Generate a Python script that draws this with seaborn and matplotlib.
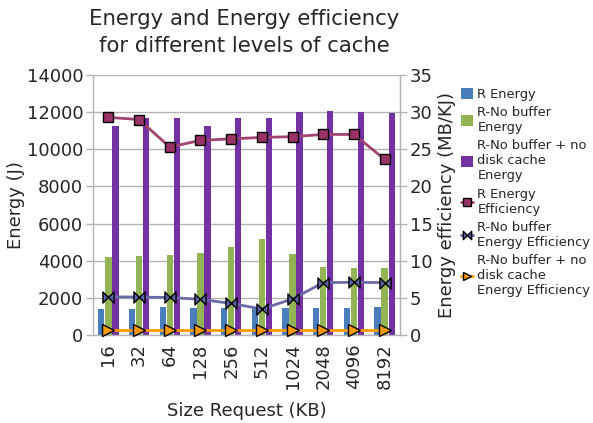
import numpy as np
import pandas as pd
import matplotlib
matplotlib.use("Agg")
import matplotlib.pyplot as plt
import seaborn as sns
from matplotlib.path import Path
from matplotlib.patches import Patch
from matplotlib.lines import Line2D

# Request sizes (KB)
sizes = ["16", "32", "64", "128", "256", "512", "1024", "2048", "4096", "8192"]

# Energy (J)
r_energy = [1400, 1410, 1490, 1450, 1430, 1435, 1435, 1435, 1435, 1525]
nobuf_energy = [4220, 4270, 4310, 4410, 4740, 5170, 4380, 3660, 3590, 3610]
nobuf_nocache_energy = [11250, 11670, 11670, 11270, 11670, 11700, 12000, 12040, 12000, 11970]

# Energy efficiency (MB/KJ)
r_eff = [29.3, 29.0, 25.3, 26.2, 26.4, 26.6, 26.7, 27.0, 27.0, 23.65]
nobuf_eff = [5.15, 5.1, 5.05, 4.8, 4.25, 3.5, 4.85, 7.05, 7.1, 7.05]
nobuf_nocache_eff = [0.7, 0.7, 0.7, 0.7, 0.7, 0.7, 0.7, 0.7, 0.7, 0.7]

bar_names = ["R Energy", "R-No buffer\nEnergy", "R-No buffer + no\ndisk cache\nEnergy"]
line_names = ["R Energy\nEfficiency", "R-No buffer\nEnergy Efficiency",
              "R-No buffer + no\ndisk cache\nEnergy Efficiency"]

bar_colors = ["#4a7ebb", "#93b455", "#7431a3"]

sns.set_style("white")
plt.rcParams["font.family"] = ["DejaVu Sans"]

df = pd.DataFrame({
    "size": sizes * 3,
    "energy": r_energy + nobuf_energy + nobuf_nocache_energy,
    "series": [bar_names[0]] * len(sizes) + [bar_names[1]] * len(sizes) + [bar_names[2]] * len(sizes),
})

fig = plt.figure(figsize=(5.93, 4.23), dpi=100)
ax1 = fig.add_axes([93 / 593, 88 / 423, 307 / 593, 260 / 423])

grid_c = "#b3b3b3"
ax1.set_axisbelow(True)
ax1.yaxis.grid(True, color=grid_c, linewidth=1.0)

sns.barplot(data=df, x="size", y="energy", hue="series", order=sizes,
            hue_order=bar_names, palette=bar_colors, width=0.69, gap=0.1,
            saturation=1, legend=False, ax=ax1, linewidth=0)

ax1.set_xlim(-0.5, len(sizes) - 0.5)
ax1.set_ylim(0, 14000)
ax1.set_yticks(np.arange(0, 14001, 2000))
ax1.set_ylabel("Energy (J)", fontsize=13, labelpad=1)
ax1.set_xlabel("Size Request (KB)", fontsize=13, labelpad=9)
ax1.tick_params(axis="x", which="major", length=0, labelsize=13, labelrotation=90, pad=6)
ax1.set_xticks(np.arange(-0.5, len(sizes)), minor=True)
ax1.tick_params(axis="x", which="minor", length=5, color=grid_c, width=1)
ax1.tick_params(axis="y", length=5, color=grid_c, width=1, labelsize=13, pad=2, left=True)

ax1.spines["top"].set_visible(False)
for side in ["left", "right", "bottom"]:
    ax1.spines[side].set_color(grid_c)
    ax1.spines[side].set_linewidth(1.0)

ax2 = ax1.twinx()
ax2.set_ylim(0, 35)
ax2.set_yticks(np.arange(0, 36, 5))
ax2.tick_params(axis="y", length=5, color=grid_c, width=1, labelsize=13, pad=2, right=True)
ax2.set_ylabel("Energy efficiency (MB/KJ)", fontsize=13, labelpad=4)
for side in ["top", "left", "bottom"]:
    ax2.spines[side].set_visible(False)
ax2.spines["right"].set_color(grid_c)

bowtie = Path([(-1, -1), (-1, 1), (1, -1), (1, 1), (-1, -1)],
              [Path.MOVETO, Path.LINETO, Path.LINETO, Path.LINETO, Path.CLOSEPOLY])

xpos = np.arange(len(sizes))
line_styles = [
    dict(color="#a3436f", marker="s", markerfacecolor="#993366", markersize=7.5),
    dict(color="#6a6aa8", marker=bowtie, markerfacecolor="#5a64a6", markersize=8),
    dict(color="#ff9900", marker=">", markerfacecolor="#ff9900", markersize=8),
]
vals = [r_eff, nobuf_eff, nobuf_nocache_eff]
for v, st in zip(vals, line_styles):
    sns.lineplot(x=xpos, y=v, ax=ax2, linewidth=2, markeredgecolor="black",
                 markeredgewidth=1.0, clip_on=False, zorder=3, **st)

ax2.set_xlim(-0.5, len(sizes) - 0.5)

fig.suptitle("Energy and Energy efficiency\nfor different levels of cache",
             x=244 / 593, y=0.978, fontsize=15.3, linespacing=1.4)

handles = [Patch(facecolor=c, edgecolor="none") for c in bar_colors]
for st in line_styles:
    handles.append(Line2D([0], [0], color=st["color"], linewidth=2, marker=st["marker"],
                          markerfacecolor=st["markerfacecolor"], markeredgecolor="black",
                          markersize=6))
fig.legend(handles, bar_names + line_names, loc="upper left",
           bbox_to_anchor=(461 / 593, 1 - 88 / 423), frameon=False, fontsize=9.4,
           handlelength=0.9, handleheight=0.9, handletextpad=0.35, labelspacing=0.4,
           borderaxespad=0, borderpad=0)

fig.savefig("out.png", dpi=100)
